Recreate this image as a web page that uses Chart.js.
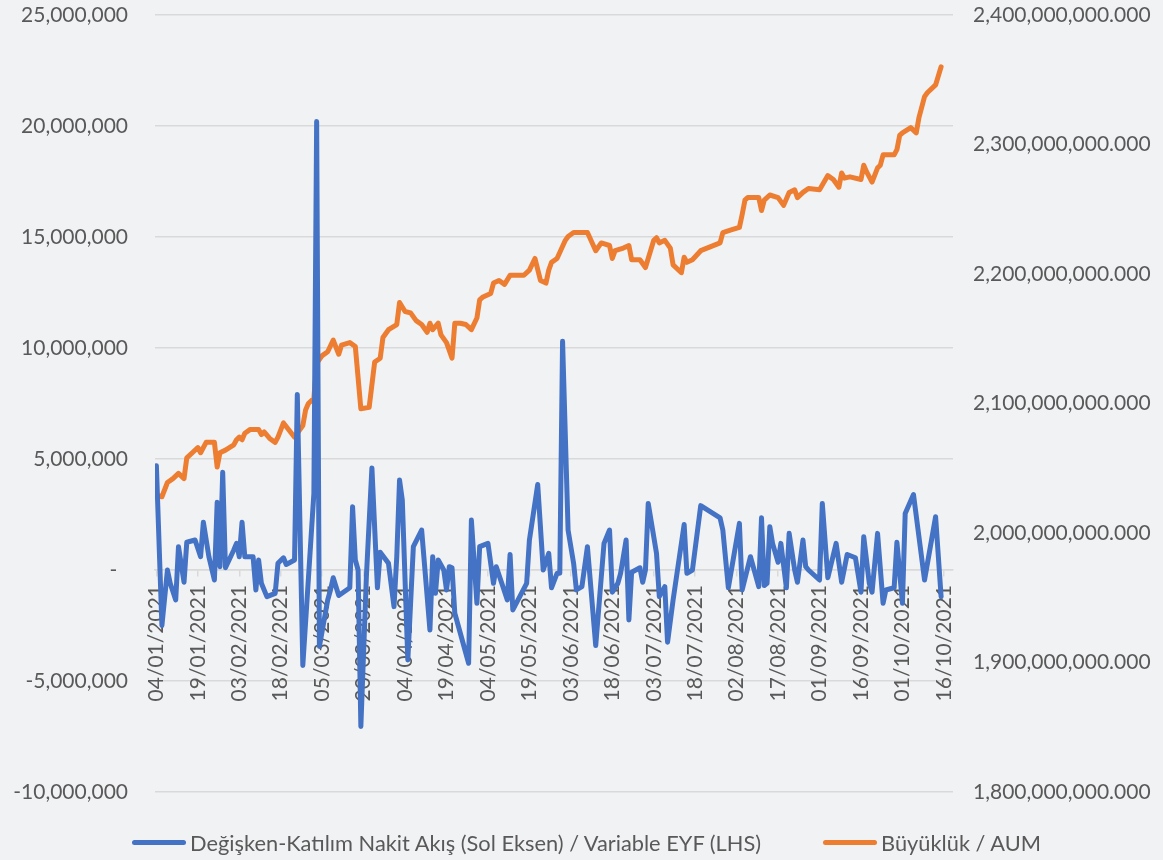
<!DOCTYPE html>
<html>
<head>
<meta charset="utf-8">
<script src="https://cdn.jsdelivr.net/npm/chart.js@4.4.0/dist/chart.umd.min.js"></script>
<style>
    html, body { margin: 0; padding: 0; background: #f1f2f4; }
    #wrap { position: relative; width: 1163px; height: 860px; }
    #legend {
        position: absolute; left: 0; top: 829px; width: 1163px;
        display: flex; justify-content: center; gap: 62px;
        font: 21.8px Lato, "Open Sans", sans-serif; color: #595959;
        padding-left: 10px; box-sizing: border-box;
    }
    .legend-item { display: flex; align-items: center; white-space: nowrap; }
    .legend-swatch { width: 54px; height: 5px; border-radius: 3px; margin-right: 4px; }
</style>
</head>
<body>
<div id="wrap">
    <canvas id="flowChart" width="1163" height="860"></canvas>
    <div id="legend"></div>
</div>
<script>
// x axis: dates shown every 15 days, day offsets counted from 04/01/2021
const tickLabels = ["04/01/2021", "19/01/2021", "03/02/2021", "18/02/2021", "05/03/2021",
    "20/03/2021", "04/04/2021", "19/04/2021", "04/05/2021", "19/05/2021", "03/06/2021",
    "18/06/2021", "03/07/2021", "18/07/2021", "02/08/2021", "17/08/2021", "01/09/2021",
    "16/09/2021", "01/10/2021", "16/10/2021"];

// Değişken-katılım nakit akışı (million), left axis
const flowDays = [0, 2, 4, 5, 7, 8, 10, 11, 14, 16,
    17, 19, 21, 22, 23, 24, 25, 28, 29, 30,
    31, 32, 35, 36, 37, 38, 40, 43, 44, 46,
    47, 50, 51, 53, 57, 58, 59, 62, 63, 64,
    66, 70, 71, 72, 73, 74, 76, 78, 80, 81,
    84, 86, 87, 88, 89, 91, 93, 96, 99, 100,
    101, 102, 104, 105, 106, 107, 108, 113, 114, 116,
    117, 120, 122, 123, 125, 127, 128, 129, 134, 135,
    138, 140, 142, 143, 145, 146, 147, 149, 151, 152,
    154, 156, 159, 162, 164, 165, 167, 168, 170, 171,
    172, 175, 176, 177, 178, 181, 182, 184, 185, 187,
    191, 192, 194, 197, 204, 205, 207, 211, 212, 215,
    218, 219, 220, 221, 222, 223, 225, 226, 228, 229,
    231, 232, 234, 235, 236, 240, 241, 243, 246, 248,
    250, 253, 255, 256, 258, 259, 261, 263, 264, 267,
    268, 270, 271, 274, 278, 282, 284];
const flowValues = [4.7, -2.5, 0, -0.6, -1.35, 1.05, -0.55, 1.25, 1.35, 0.6,
    2.15, 0.6, -0.45, 3.05, 0.15, 4.4, 0.1, 0.9, 1.2, 0.6,
    2.15, 0.6, 0.6, -0.9, 0.45, -0.6, -1.2, -1.05, 0.3, 0.55,
    0.25, 0.45, 7.9, -4.3, 3.45, 20.2, -3.45, -1.35, -0.9, -0.35,
    -1.15, -0.8, 2.85, 0.45, 0, -7.05, -0.3, 4.6, -0.8, 0.8,
    0.3, -1.65, 0.6, 4.05, 3.15, -4.05, 1.05, 1.8, -2.7, 0.6,
    -1.05, 0.45, 0, -0.9, 0.15, 0.1, -1.95, -4.2, 2.25, -1.5,
    1.05, 1.2, -0.6, 0.15, -0.6, -1.35, 0.7, -1.8, -0.6, 1.35,
    3.85, 0, 0.75, -0.8, -0.15, -0.15, 10.3, 1.8, 0.3, -0.9,
    -0.75, 1.05, -3.4, 1.2, 1.8, -1.0, -0.6, -0.15, 1.35, -2.25,
    -0.1, 0.1, -0.55, 0, 3.0, 0.75, -1.2, -0.75, -3.25, -1.35,
    2.05, -0.15, 0, 2.9, 2.35, 1.8, -0.8, 2.1, -0.9, 0.6,
    -0.75, 2.35, -0.7, -0.6, 1.95, 1.2, 0.35, 1.2, -0.8, 1.65,
    0, -0.55, 1.35, 0.15, 0, -0.45, 3.0, -0.35, 1.2, -0.55,
    0.7, 0.55, -1.0, 1.5, -0.6, -1.0, 1.65, -1.5, -0.9, -0.8,
    1.25, -1.5, 2.55, 3.4, -0.45, 2.4, -1.2];

// Büyüklük / AUM (million), right axis
const aumDays = [0, 2, 4, 6, 8, 10, 11, 13, 15, 16,
    18, 21, 22, 23, 25, 28, 29, 30, 31, 32,
    34, 37, 38, 39, 41, 43, 44, 46, 50, 53,
    54, 55, 57, 58, 60, 62, 64, 66, 67, 70,
    72, 74, 77, 79, 81, 82, 84, 87, 88, 90,
    92, 94, 96, 98, 99, 100, 102, 103, 105, 107,
    108, 110, 112, 114, 116, 117, 118, 121, 122, 124,
    126, 128, 133, 135, 137, 139, 141, 142, 143, 145,
    148, 149, 151, 156, 159, 161, 164, 165, 166, 169,
    171, 172, 175, 177, 180, 181, 182, 184, 186, 187,
    190, 191, 192, 194, 197, 204, 205, 208, 211, 212,
    213, 214, 218, 219, 220, 222, 225, 227, 229, 231,
    232, 234, 236, 240, 243, 245, 247, 248, 249, 251,
    255, 256, 257, 259, 261, 262, 263, 267, 268, 269,
    270, 273, 275, 276, 278, 279, 282, 284];
const aumValues = [2029, 2028, 2039, 2042, 2046, 2042, 2058, 2062, 2066, 2062,
    2070, 2070, 2051, 2062, 2064, 2068, 2072, 2074, 2072, 2077,
    2080, 2080, 2076, 2078, 2073, 2070, 2074, 2085, 2074, 2083,
    2095, 2100, 2104, 2131, 2137, 2140, 2149, 2138, 2145, 2147,
    2144, 2096, 2097, 2132, 2135, 2151, 2157, 2161, 2178, 2171,
    2170, 2164, 2161, 2155, 2162, 2157, 2162, 2153, 2147, 2135,
    2162, 2162, 2161, 2157, 2166, 2180, 2182, 2185, 2193, 2195,
    2192, 2199, 2199, 2203, 2212, 2195, 2193, 2203, 2209, 2212,
    2226, 2229, 2232, 2232, 2218, 2224, 2222, 2212, 2218, 2220,
    2222, 2211, 2211, 2205, 2226, 2228, 2224, 2226, 2220, 2207,
    2201, 2213, 2209, 2211, 2218, 2224, 2232, 2234, 2236, 2246,
    2257, 2259, 2259, 2249, 2257, 2261, 2259, 2253, 2263, 2265,
    2259, 2263, 2266, 2265, 2276, 2273, 2267, 2278, 2274, 2275,
    2273, 2284, 2279, 2271, 2282, 2284, 2292, 2292, 2296, 2307,
    2309, 2313, 2309, 2321, 2337, 2340, 2346, 2360];

const flowLabel = "Değişken-Katılım Nakit Akış (Sol Eksen) / Variable EYF (LHS)";
const aumLabel = "Büyüklük / AUM";

const textColor = "#595959";
const gridColor = "#d9d9d9";
const tickFont = { family: "Lato, 'Open Sans', sans-serif", size: 21 };

function dayOf(label) {
    const [d, m, y] = label.split("/").map(Number);
    const [d0, m0, y0] = tickLabels[0].split("/").map(Number);
    return Math.round((Date.UTC(y, m - 1, d) - Date.UTC(y0, m0 - 1, d0)) / 86400000);
}
const tickDays = tickLabels.map(dayOf);

function withCommas(n) {
    return String(Math.round(n)).replace(/\B(?=(\d{3})+(?!\d))/g, ",");
}

const ctx = document.getElementById("flowChart").getContext("2d");
const chart = new Chart(ctx, {
    type: "line",
    data: {
        datasets: [{
            label: flowLabel,
            data: flowDays.map((d, i) => ({ x: d, y: flowValues[i] })),
            yAxisID: "y",
            borderColor: "#4472c4",
            backgroundColor: "#4472c4",
            borderWidth: 5,
            pointRadius: 0,
            tension: 0,
            borderJoinStyle: "round",
            borderCapStyle: "round"
        }, {
            label: aumLabel,
            data: aumDays.map((d, i) => ({ x: d, y: aumValues[i] })),
            yAxisID: "y1",
            borderColor: "#ed7d31",
            backgroundColor: "#ed7d31",
            borderWidth: 5,
            pointRadius: 0,
            tension: 0,
            borderJoinStyle: "round",
            borderCapStyle: "round"
        }]
    },
    options: {
        responsive: false,
        animation: false,
        layout: { padding: { top: 15, bottom: 68, left: 0, right: 0 } },
        plugins: {
            legend: { display: false },
            tooltip: { enabled: false }
        },
        scales: {
            x: {
                type: "linear",
                min: -0.5,
                max: 288.3,
                position: { y: 0 },
                afterBuildTicks: s => { s.ticks = tickDays.map(v => ({ value: v })); },
                ticks: {
                    autoSkip: false,
                    minRotation: 90,
                    maxRotation: 90,
                    padding: 9,
                    color: textColor,
                    font: tickFont,
                    callback: (v, i) => tickLabels[i]
                },
                grid: { drawOnChartArea: false, color: gridColor, lineWidth: 1.5, tickLength: 6 },
                border: { display: true, color: gridColor, width: 1.5 }
            },
            y: {
                position: "left",
                min: -10,
                max: 25,
                ticks: {
                    stepSize: 5,
                    padding: 2,
                    color: textColor,
                    font: tickFont,
                    callback: v => v === 0 ? "-\u00a0\u00a0" : withCommas(v * 1e6)
                },
                // invisible tick marks keep the labels away from the plot
                grid: { color: gridColor, lineWidth: 1.5, tickLength: 25, tickColor: "rgba(0,0,0,0)" },
                border: { display: false },
                afterFit: s => { s.width = 155; }
            },
            y1: {
                position: "right",
                min: 1800,
                max: 2400,
                ticks: {
                    stepSize: 100,
                    padding: 2,
                    color: textColor,
                    font: tickFont,
                    callback: v => withCommas(v * 1e6) + ".000"
                },
                grid: { drawOnChartArea: false, tickLength: 18, tickColor: "rgba(0,0,0,0)" },
                border: { display: false },
                afterFit: s => { s.width = 210; }
            }
        }
    }
});

// legend below the plot
const legendBox = document.getElementById("legend");
chart.data.datasets.forEach(ds => {
    const item = document.createElement("div");
    item.className = "legend-item";
    item.innerHTML = `<span class="legend-swatch" style="background:${ds.borderColor}"></span><span>${ds.label}</span>`;
    legendBox.appendChild(item);
});
</script>
</body>
</html>
